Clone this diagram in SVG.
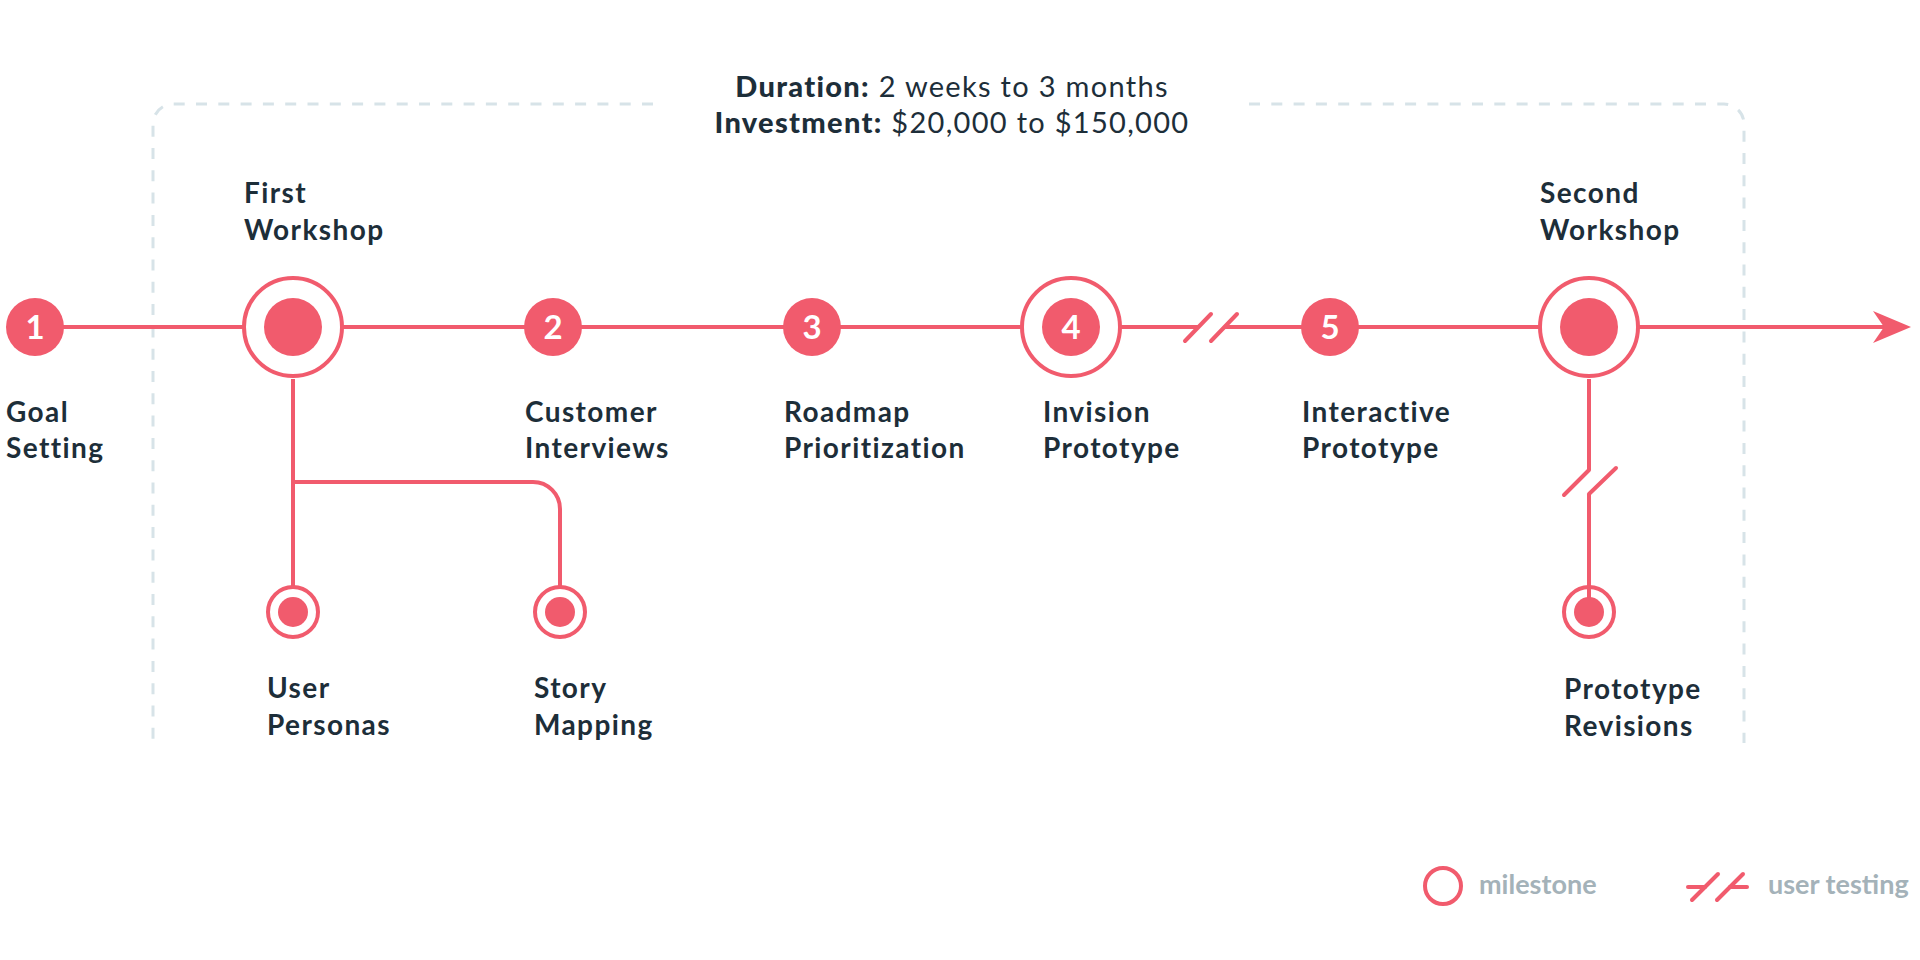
<svg xmlns="http://www.w3.org/2000/svg" width="1920" height="960" viewBox="0 0 1920 960">
<defs>
<style>
.ln{stroke:#f15b6d;stroke-width:4;fill:none}
.sl{stroke:#f15b6d;stroke-width:4;fill:none;stroke-linecap:round}
.dash{stroke:#d7e3e8;stroke-width:3;fill:none;stroke-dasharray:11 11.3}
.num{fill:#f15b6d}
.ring{fill:#ffffff;stroke:#f15b6d;stroke-width:4}
.dot{fill:#f15b6d}
.n{font-family:Lato,"Noto Sans",sans-serif;font-weight:700;font-size:33px;fill:#ffffff;text-anchor:middle}
.lb{font-family:Lato,"Noto Sans",sans-serif;font-weight:700;font-size:28px;fill:#1d2e39;letter-spacing:1.4px}
.tb{font-family:Lato,"Noto Sans",sans-serif;font-weight:900;font-size:29px;fill:#1d2e39;letter-spacing:1.3px}
.tr{font-family:Lato,"Noto Sans",sans-serif;font-weight:400;font-size:29px;fill:#1d2e39;letter-spacing:1.3px}
.lg{font-family:Lato,"Noto Sans",sans-serif;font-weight:700;font-size:27px;fill:#a4b2b9}
</style>
</defs>
<rect width="1920" height="960" fill="#ffffff"/>

<g id="frame">
<path class="dash" d="M653 104 H173 A20 20 0 0 0 153 124 V743"/>
<path class="dash" d="M1249 104 H1724 A20 20 0 0 1 1744 124 V743"/>
</g>

<g id="header">
<text x="952" y="97" text-anchor="middle"><tspan class="tb">Duration:</tspan><tspan class="tr"> 2 weeks to 3 months</tspan></text>
<text x="952" y="133" text-anchor="middle"><tspan class="tb">Investment:</tspan><tspan class="tr"> $20,000 to $150,000</tspan></text>
</g>

<g id="connectors">
<line class="ln" x1="35" y1="327" x2="1198" y2="327"/>
<line class="ln" x1="1224" y1="327" x2="1902" y2="327"/>
<line class="sl" x1="1185" y1="341" x2="1211" y2="314"/>
<line class="sl" x1="1211" y1="341" x2="1237" y2="314"/>
<polygon fill="#f15b6d" points="1911,327 1873,311 1884,327 1873,343"/>
<path class="ln" d="M293 379 V587"/>
<path class="ln" d="M293 482 H533 A27 27 0 0 1 560 509 V587"/>
<path class="ln" d="M1589 379 V470"/>
<line class="sl" x1="1589" y1="470" x2="1564" y2="495"/>
<line class="sl" x1="1616" y1="468" x2="1589" y2="494"/>
<path class="ln" d="M1589 494 V600"/>
</g>

<g id="node-goal-setting">
<circle class="num" cx="35" cy="327" r="29"/>
<text class="n" x="35" y="339">1</text>
<text class="lb" x="6" y="422">Goal</text>
<text class="lb" x="6" y="458">Setting</text>
</g>

<g id="node-first-workshop">
<circle class="ring" cx="293" cy="327" r="49"/>
<circle class="dot" cx="293" cy="327" r="29"/>
<text class="lb" x="244" y="203">First</text>
<text class="lb" x="244" y="240">Workshop</text>
</g>

<g id="node-customer-interviews">
<circle class="num" cx="553" cy="327" r="29"/>
<text class="n" x="553" y="339">2</text>
<text class="lb" x="525" y="422">Customer</text>
<text class="lb" x="525" y="458">Interviews</text>
</g>

<g id="node-roadmap">
<circle class="num" cx="812" cy="327" r="29"/>
<text class="n" x="812" y="339">3</text>
<text class="lb" x="784" y="422">Roadmap</text>
<text class="lb" x="784" y="458">Prioritization</text>
</g>

<g id="node-invision">
<circle class="ring" cx="1071" cy="327" r="49"/>
<circle class="num" cx="1071" cy="327" r="29"/>
<text class="n" x="1071" y="339">4</text>
<text class="lb" x="1043" y="422">Invision</text>
<text class="lb" x="1043" y="458">Prototype</text>
</g>

<g id="node-interactive">
<circle class="num" cx="1330" cy="327" r="29"/>
<text class="n" x="1330" y="339">5</text>
<text class="lb" x="1302" y="422">Interactive</text>
<text class="lb" x="1302" y="458">Prototype</text>
</g>

<g id="node-second-workshop">
<circle class="ring" cx="1589" cy="327" r="49"/>
<circle class="dot" cx="1589" cy="327" r="29"/>
<text class="lb" x="1540" y="203">Second</text>
<text class="lb" x="1540" y="240">Workshop</text>
</g>

<g id="node-user-personas">
<circle class="ring" cx="293" cy="612" r="25"/>
<circle class="dot" cx="293" cy="612" r="15"/>
<text class="lb" x="267" y="698">User</text>
<text class="lb" x="267" y="735">Personas</text>
</g>

<g id="node-story-mapping">
<circle class="ring" cx="560" cy="612" r="25"/>
<circle class="dot" cx="560" cy="612" r="15"/>
<text class="lb" x="534" y="698">Story</text>
<text class="lb" x="534" y="735">Mapping</text>
</g>

<g id="node-prototype-revisions">
<circle class="ring" cx="1589" cy="612" r="25" style="fill:none"/>
<circle class="dot" cx="1589" cy="612" r="15"/>
<text class="lb" x="1564" y="699">Prototype</text>
<text class="lb" x="1564" y="736">Revisions</text>
</g>

<g id="legend">
<circle cx="1443" cy="886" r="18" fill="none" stroke="#f15b6d" stroke-width="4"/>
<text class="lg" x="1479" y="894">milestone</text>
<line class="sl" x1="1688" y1="887" x2="1705" y2="887"/>
<line class="sl" x1="1692" y1="900" x2="1718" y2="874"/>
<line class="sl" x1="1717" y1="900" x2="1743" y2="874"/>
<line class="sl" x1="1730" y1="887" x2="1747" y2="887"/>
<text class="lg" x="1768" y="894">user testing</text>
</g>
</svg>
